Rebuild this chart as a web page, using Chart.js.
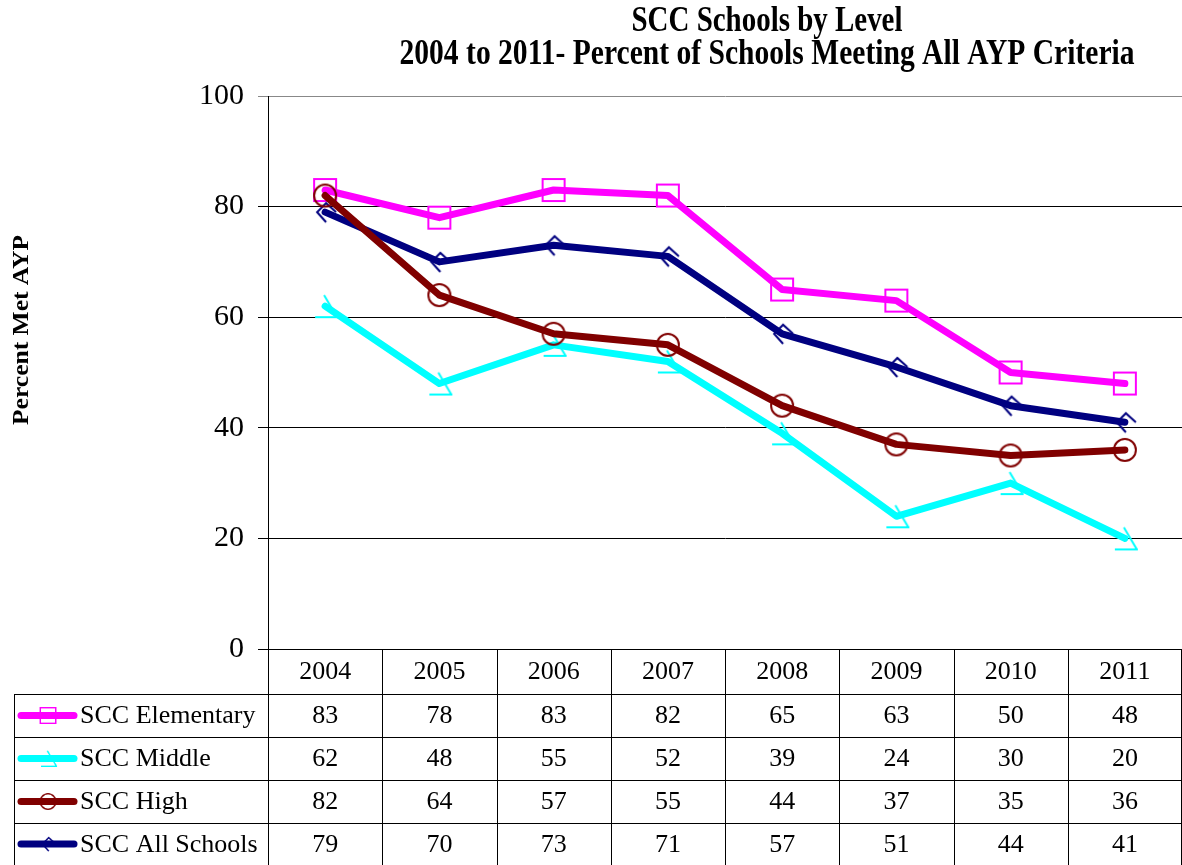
<!DOCTYPE html>
<html>
<head>
<meta charset="utf-8">
<script src="https://cdn.jsdelivr.net/npm/chart.js@4"></script>
<style>
  body { margin:0; background:#fff; overflow:hidden; }
  #wrap { width:1182px; height:865px; position:relative; }
</style>
</head>
<body>
<div id="wrap"><canvas id="chart"></canvas></div>
<script>
const years = ['2004','2005','2006','2007','2008','2009','2010','2011'];
const elementary = [83,78,83,82,65,63,50,48];
const middle = [62,48,55,52,39,24,30,20];
const high = [82,64,57,55,44,37,35,36];
const allSchools = [79,70,73,71,57,51,44,41];
const yTicks = [0,20,40,60,80,100];

const serif = "'Liberation Serif', 'Times New Roman', serif";

// little canvases for the odd Excel markers
function marker(kind, color) {
  const c = document.createElement('canvas');
  c.width = 34; c.height = 34;
  const g = c.getContext('2d');
  g.strokeStyle = color; g.lineWidth = 2;
  g.translate(17,17);
  g.beginPath();
  if (kind==='square') g.rect(-11,-11,22,22);
  if (kind==='circle') g.arc(0,0,11,0,Math.PI*2);
  if (kind==='middle') { g.moveTo(-1,-11); g.lineTo(12,11); g.moveTo(-10,11); g.lineTo(13,11); }
  if (kind==='all') { g.moveTo(11,0); g.lineTo(1,-9); g.lineTo(-8,0); g.lineTo(1,10); }
  g.stroke();
  return c;
}

const series = [
  { label:'SCC Elementary', data:elementary, color:'#ff00ff', mark:marker('square','#ff00ff'), order:4 },
  { label:'SCC Middle', data:middle, color:'#00ffff', mark:marker('middle','#00ffff'), order:3 },
  { label:'SCC High', data:high, color:'#800000', mark:marker('circle','#800000'), order:1 },
  { label:'SCC All Schools', data:allSchools, color:'#000080', mark:marker('all','#000080'), order:2 }
];

// the original text is a tall, narrow bold face: squeeze it to the width it takes there
function squeezedText(ctx, text, x, y, width) {
  const w = ctx.measureText(text).width;
  ctx.save();
  ctx.translate(x, y);
  ctx.scale(width / w, 1);
  ctx.fillText(text, 0, 0);
  ctx.restore();
}

const extras = {
  id:'extras',
  afterDraw(chart) {
    const ctx = chart.ctx;
    const xs = chart.scales.x;
    const area = chart.chartArea;
    ctx.save();
    ctx.fillStyle = '#000';
    ctx.textAlign = 'center';

    // title
    ctx.textBaseline = 'alphabetic';
    ctx.font = 'bold 35px ' + serif;
    squeezedText(ctx, 'SCC Schools by Level', 767, 31, 271);
    squeezedText(ctx, '2004 to 2011- Percent of Schools Meeting All AYP Criteria', 767, 64, 735);

    // y axis title
    ctx.save();
    ctx.translate(22, 330);
    ctx.rotate(-Math.PI/2);
    ctx.textBaseline = 'middle';
    ctx.font = 'bold 24px ' + serif;
    squeezedText(ctx, 'Percent Met AYP', 0, 0, 190);
    ctx.restore();

    // data table
    ctx.textBaseline = 'middle';
    const half = (xs.getPixelForValue(1) - xs.getPixelForValue(0)) / 2;
    const top = area.bottom, bottom = 865;
    const rowTops = [694, 737, 780, 823, 865];
    ctx.strokeStyle = '#000';
    ctx.lineWidth = 1;
    ctx.beginPath();
    for (let i = 0; i <= years.length; i++) {
      let x = Math.round(xs.getPixelForValue(i) - half) + 0.5;
      if (i === years.length) x = 1181.5;
      ctx.moveTo(x, top); ctx.lineTo(x, bottom);
    }
    ctx.moveTo(14.5, rowTops[0]); ctx.lineTo(14.5, bottom);
    for (let r = 0; r < 4; r++) {
      ctx.moveTo(14, rowTops[r] + 0.5); ctx.lineTo(1182, rowTops[r] + 0.5);
    }
    ctx.stroke();

    ctx.font = '26px ' + serif;
    years.forEach((y, i) => ctx.fillText(y, xs.getPixelForValue(i), 672));
    series.forEach((s, r) => {
      const cy = (rowTops[r] + rowTops[r+1]) / 2;
      s.data.forEach((v, i) => ctx.fillText(String(v), xs.getPixelForValue(i), cy + 1));
      // legend key
      ctx.strokeStyle = s.color;
      ctx.lineWidth = 7;
      ctx.lineCap = 'round';
      ctx.beginPath(); ctx.moveTo(21, cy); ctx.lineTo(74, cy); ctx.stroke();
      ctx.drawImage(s.mark, 48 - 12, cy - 12, 24, 24);
      ctx.textAlign = 'left';
      ctx.fillText(s.label, 80, cy + 1);
      ctx.textAlign = 'center';
    });
    ctx.restore();
  }
};

new Chart(document.getElementById('chart'), {
  type:'line',
  data:{
    labels: years,
    datasets: series.map(s => ({
      label: s.label,
      data: s.data,
      borderColor: s.color,
      backgroundColor: s.color,
      borderWidth: 7,
      borderCapStyle: 'round',
      borderJoinStyle: 'round',
      pointStyle: s.mark,
      pointRadius: 12,
      order: s.order,
      tension: 0
    }))
  },
  options:{
    responsive:true,
    maintainAspectRatio:false,
    animation:false,
    layout:{ autoPadding:false, padding:{ top:96, bottom:216, left:0, right:0 } },
    plugins:{ legend:{ display:false }, tooltip:{ enabled:false }, title:{ display:false } },
    scales:{
      x:{ type:'category', offset:true, display:false, ticks:{ display:false } },
      y:{
        min:0, max:100,
        afterFit(scale) { scale.width = 268; },
        afterBuildTicks(scale) { scale.ticks = yTicks.map(v => ({ value:v })); },
        border:{ display:true, color:'#000', width:1 },
        grid:{
          color: c => c.tick && c.tick.value === 100 ? '#888' : '#000',
          lineWidth:1,
          tickLength:10,
          drawTicks:true
        },
        ticks:{ color:'#000', padding:14, font:{ family:serif, size:30 } }
      }
    }
  },
  plugins:[extras]
});
</script>
</body>
</html>
